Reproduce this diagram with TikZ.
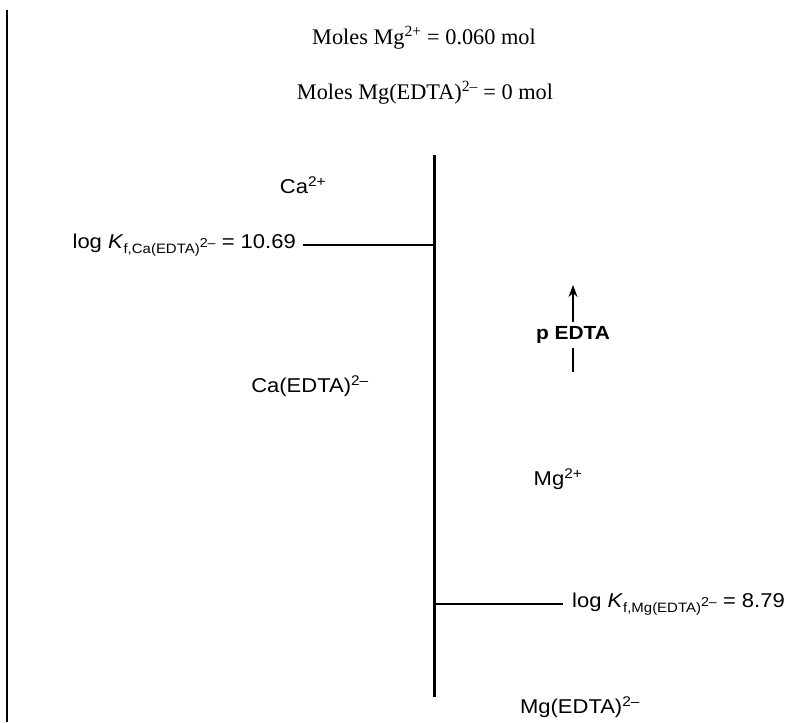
\documentclass[tikz,border=0pt]{standalone}
\usepackage{fontspec}
\setmainfont{Liberation Serif}
\setsansfont[FakeStretch=1.1]{Liberation Sans}
\usetikzlibrary{arrows.meta}
\tikzset{
  every picture/.style={line join=round, line cap=butt, >=Stealth},
  lbl/.style={font=\sffamily\fontsize{20}{24}\selectfont, inner sep=0pt},
  moles/.style={font=\fontsize{22.3}{26}\selectfont, inner sep=0pt},
  axis/.style={line width=3pt},
  tick/.style={line width=1.2pt},
}
\newcommand{\chg}[1]{\textsuperscript{#1}}
\newcommand{\kf}[1]{\textit{K}\raisebox{-5pt}{\fontsize{13.6}{16}\selectfont#1}\raisebox{1pt}{\fontsize{13}{16}\selectfont 2--}}

\begin{document}
\begin{tikzpicture}[x=1pt,y=1pt]
\useasboundingbox(0,0)rectangle(786,722);
\draw[line width=2pt](7,712)--(7,0);
% species and totals
\node[moles](molmg) at (424,684){Moles Mg\chg{2+} = 0.060 mol};
\node[moles](molmgy) at (425,629){Moles Mg(EDTA)\chg{2--} = 0 mol};
\node[lbl](ca) at (303,537){Ca\chg{2+}};
\node[lbl](cay) at (310,336){Ca(EDTA)\chg{2--}};
\node[lbl](mg) at (558,243){Mg\chg{2+}};
\node[lbl](mgy) at (580,15){Mg(EDTA)\chg{2--}};
% ladder
\coordinate(top) at (434,567);
\coordinate(bot) at (434,25);
\coordinate(kca) at (434,477);
\coordinate(kmg) at (434,118);
\draw[axis](top)--(bot);
\node[lbl,anchor=east](logca) at (296,477){log \kf{f,Ca(EDTA)} = 10.69};
\node[lbl,anchor=west](logmg) at (572,118){log \kf{f,Mg(EDTA)} = 8.79};
\draw[tick](logca.east)++(7,0)--(kca);
\draw[tick](kmg)--([xshift=-9pt]logmg.west);
% p EDTA arrow
\node[lbl,font=\sffamily\bfseries\fontsize{19}{22}\selectfont,inner sep=4pt](pedta) at (573,387){p EDTA};
\coordinate(tip) at (573,437);
\coordinate(tail) at (573,350);
\draw[tick,-{Stealth[length=12pt,width=9pt]}](pedta)--(tip);
\draw[tick](pedta)--(tail);
\end{tikzpicture}
\end{document}
